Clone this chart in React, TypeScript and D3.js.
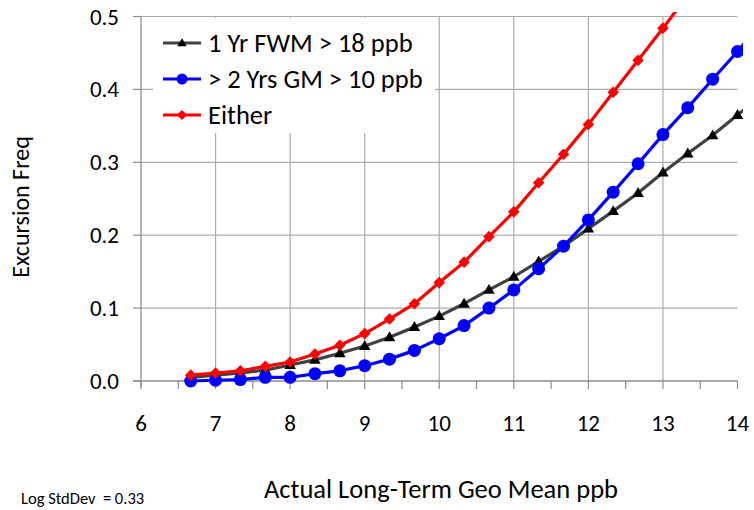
import React from "react";
import * as d3 from "d3";

const geoMean = [6.667, 7, 7.333, 7.667, 8, 8.333, 8.667, 9, 9.333, 9.667, 10, 10.333, 10.667, 11, 11.333, 11.667, 12, 12.333, 12.667, 13, 13.333, 13.667, 14, 14.333];
const fwm18 = [0.005, 0.008, 0.011, 0.015, 0.022, 0.029, 0.038, 0.048, 0.060, 0.074, 0.089, 0.106, 0.125, 0.143, 0.164, 0.185, 0.209, 0.233, 0.258, 0.286, 0.312, 0.337, 0.365, 0.392];
const gm10 = [0.000, 0.001, 0.002, 0.005, 0.005, 0.010, 0.014, 0.021, 0.030, 0.042, 0.058, 0.076, 0.100, 0.125, 0.154, 0.185, 0.221, 0.259, 0.298, 0.338, 0.375, 0.414, 0.452, 0.492];
const either = [0.008, 0.011, 0.014, 0.020, 0.026, 0.037, 0.049, 0.065, 0.085, 0.106, 0.135, 0.163, 0.198, 0.232, 0.272, 0.311, 0.352, 0.396, 0.440, 0.484, 0.529, 0.574, 0.620, 0.666];

const seriesNames = ["1 Yr FWM > 18 ppb", "> 2 Yrs GM > 10 ppb", "Either"];
const xTicks = [6, 7, 8, 9, 10, 11, 12, 13, 14];
const yTicks = [0, 0.1, 0.2, 0.3, 0.4, 0.5];

const FONT = "Calibri, Carlito, Lato, sans-serif";

type Shape = "triangle" | "circle" | "diamond";

function marker(shape: Shape, x: number, y: number, s: number, fill: string, key?: any) {
  if (shape === "circle") return <circle key={key} cx={x} cy={y} r={s} fill={fill} />;
  if (shape === "triangle") {
    const h = s * 1.8;
    const w = s * 2.1;
    return (
      <path key={key} d={`M${x},${y - h * 0.6}L${x + w / 2},${y + h * 0.4}L${x - w / 2},${y + h * 0.4}Z`} fill={fill} />
    );
  }
  return <path key={key} d={`M${x},${y - s}L${x + s},${y}L${x},${y + s}L${x - s},${y}Z`} fill={fill} />;
}

export default function App() {
  const W = 754, H = 510;
  const x = d3.scaleLinear().domain([6, 14]).range([141, 737.5]);
  const y = d3.scaleLinear().domain([0, 0.5]).range([381, 16.5]);

  const series = [
    { name: seriesNames[0], values: fwm18, line: "#404040", fill: "#000000", shape: "triangle" as Shape, size: 5.5, lsize: 4.5 },
    { name: seriesNames[1], values: gm10, line: "#0000ff", fill: "#0000ff", shape: "circle" as Shape, size: 6.5, lsize: 5.5 },
    { name: seriesNames[2], values: either, line: "#ff0000", fill: "#ff0000", shape: "diamond" as Shape, size: 5.8, lsize: 5 },
  ];

  const lineGen = (vals: number[]) =>
    d3.line<number>().x((_, i) => x(geoMean[i])).y((v) => y(v))(vals) || "";

  const halfTicks = d3.range(6, 14.01, 0.5);
  const grid = "#ababab";
  const axisC = "#8c8c8c";

  return (
    <svg width={W} height={H} style={{ position: "absolute", left: 0, top: 0, background: "#fff" }} fontFamily={FONT}>
      <defs>
        <clipPath id="plotClip">
          <rect x={0} y={12} width={743} height={H - 12} />
        </clipPath>
      </defs>
      <rect width={W} height={H} fill="#fff" />
      {yTicks.slice(1).map((t) => (
        <line key={"hg" + t} x1={x(6)} x2={x(14)} y1={y(t)} y2={y(t)} stroke={grid} strokeWidth={1.2} />
      ))}
      {xTicks.slice(1, -1).map((t) => (
        <line key={"vg" + t} x1={x(t)} x2={x(t)} y1={y(0.5)} y2={y(0)} stroke={grid} strokeWidth={1.2} />
      ))}
      <line x1={x(6)} x2={x(6)} y1={y(0.5)} y2={y(0) + 6} stroke={axisC} strokeWidth={1.3} />
      {yTicks.map((t) => (
        <line key={"yt" + t} x1={x(6) - 8} x2={x(6)} y1={y(t)} y2={y(t)} stroke={axisC} strokeWidth={1.2} />
      ))}
      <line x1={x(6) - 8} x2={x(14)} y1={y(0)} y2={y(0)} stroke={axisC} strokeWidth={1.3} />
      {halfTicks.map((t) => (
        <line key={"xt" + t} x1={x(t)} x2={x(t)} y1={y(0)} y2={y(0) + 8} stroke={axisC} strokeWidth={1.2} />
      ))}
      {yTicks.map((t) => (
        <text key={"yl" + t} x={119} y={y(t)} dy="0.35em" textAnchor="end" fontSize={23} fill="#000">
          {d3.format(".1f")(t)}
        </text>
      ))}
      {xTicks.map((t) => (
        <text key={"xl" + t} x={x(t)} y={423} dy="0.35em" textAnchor="middle" fontSize={23} fill="#000">
          {t}
        </text>
      ))}
      <rect x={153} y={18} width={282} height={115} fill="#fff" />
      <g clipPath="url(#plotClip)">
        {series.map((s) => (
          <g key={s.name}>
            <path d={lineGen(s.values)} fill="none" stroke={s.line} strokeWidth={3.2} strokeLinejoin="round" />
            {s.values.map((v, i) => marker(s.shape, x(geoMean[i]), y(v), s.size, s.fill, i))}
          </g>
        ))}
      </g>
      {series.map((s, i) => {
        const ly = 43 + i * 36;
        return (
          <g key={"lg" + i}>
            <line x1={163} x2={201} y1={ly} y2={ly} stroke={s.line} strokeWidth={3.2} />
            {marker(s.shape, 182, ly, s.lsize, s.fill)}
            <text x={208} y={ly} dy="0.35em" fontSize={26.5} fill="#000">
              {s.name}
            </text>
          </g>
        );
      })}
      <text transform={`translate(21,207) rotate(-90)`} textAnchor="middle" dy="0.35em" fontSize={24} fill="#000">
        Excursion Freq
      </text>
      <text x={441} y={489} dy="0.35em" textAnchor="middle" fontSize={26.5} fill="#000">
        Actual Long-Term Geo Mean ppb
      </text>
      <text x={21} y={498} dy="0.35em" fontSize={16.5} fill="#000" style={{ whiteSpace: "pre" }}>
        {"Log StdDev  = 0.33"}
      </text>
    </svg>
  );
}
